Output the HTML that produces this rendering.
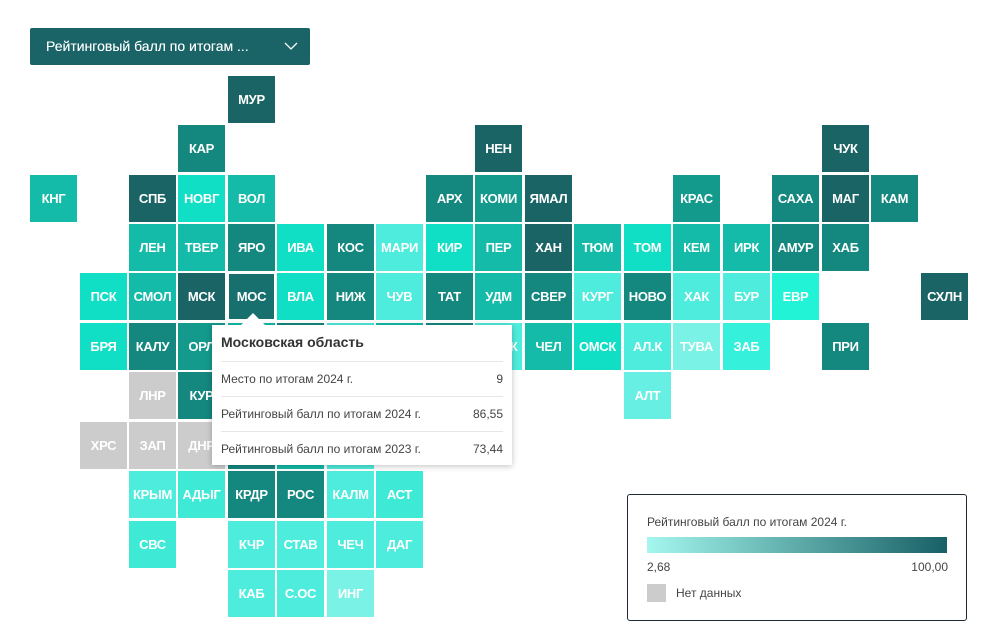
<!DOCTYPE html>
<html><head><meta charset="utf-8"><style>
body{margin:0;width:995px;height:640px;background:#fff;position:relative;overflow:hidden;font-family:"Liberation Sans",sans-serif}
.c{position:absolute;width:47px;height:47px;color:#fff;font-weight:bold;font-size:13px;line-height:47px;text-align:center;letter-spacing:-0.3px}
.D{background:#1a6466}.M{background:#14877f}.T{background:#139a8c}.S{background:#13bba8}.B{background:#10dfc6}.L{background:#4eecdc}.V{background:#7af2e6}.G{background:#cccccc}
#dd{position:absolute;left:30px;top:28px;width:280px;height:37px;background:#1a6468;border-radius:2px;color:#fff;font-size:14px;line-height:37px}
#tt{position:absolute;left:212px;top:325px;width:300px;height:140px;background:#fff;box-shadow:0 1px 6px rgba(0,0,0,.25);font-size:12px;color:#444}
#tt .r{position:absolute;left:9px;right:9px;height:34px;line-height:34px;border-top:1px solid #e6e6e6}
#tt .r span{position:absolute;right:0}
#lg{position:absolute;left:627px;top:494px;width:338px;height:125px;border:1px solid #1d2a36;border-radius:3px;font-size:12px;color:#444}
</style></head><body>
<div id="dd"><span style="position:absolute;left:16px;font-weight:500;text-shadow:0 0 0.3px #fff">Рейтинговый балл по итогам ...</span>
<svg style="position:absolute;left:254px;top:14px" width="14" height="9"><path d="M1 1 L7 7 L13 1" stroke="#fff" stroke-width="1.3" fill="none"/></svg></div>

<div class="c D" style="left:228px;top:76px">МУР</div>
<div class="c M" style="left:178px;top:125px">КАР</div>
<div class="c D" style="left:475px;top:125px">НЕН</div>
<div class="c D" style="left:822px;top:125px">ЧУК</div>

<div class="c S" style="left:30px;top:175px">КНГ</div>
<div class="c D" style="left:129px;top:175px">СПБ</div>
<div class="c B" style="left:178px;top:175px">НОВГ</div>
<div class="c S" style="left:228px;top:175px">ВОЛ</div>
<div class="c M" style="left:426px;top:175px">АРХ</div>
<div class="c T" style="left:475px;top:175px">КОМИ</div>
<div class="c D" style="left:525px;top:175px">ЯМАЛ</div>
<div class="c T" style="left:673px;top:175px">КРАС</div>
<div class="c M" style="left:772px;top:175px">САХА</div>
<div class="c D" style="left:822px;top:175px">МАГ</div>
<div class="c M" style="left:871px;top:175px">КАМ</div>

<div class="c S" style="left:129px;top:224px">ЛЕН</div>
<div class="c S" style="left:178px;top:224px">ТВЕР</div>
<div class="c M" style="left:228px;top:224px">ЯРО</div>
<div class="c B" style="left:277px;top:224px">ИВА</div>
<div class="c M" style="left:327px;top:224px">КОС</div>
<div class="c L" style="left:376px;top:224px">МАРИ</div>
<div class="c B" style="left:426px;top:224px">КИР</div>
<div class="c S" style="left:475px;top:224px">ПЕР</div>
<div class="c D" style="left:525px;top:224px">ХАН</div>
<div class="c S" style="left:574px;top:224px">ТЮМ</div>
<div class="c B" style="left:624px;top:224px">ТОМ</div>
<div class="c S" style="left:673px;top:224px">КЕМ</div>
<div class="c S" style="left:723px;top:224px">ИРК</div>
<div class="c M" style="left:772px;top:224px">АМУР</div>
<div class="c M" style="left:822px;top:224px">ХАБ</div>

<div class="c B" style="left:80px;top:273px">ПСК</div>
<div class="c S" style="left:129px;top:273px">СМОЛ</div>
<div class="c D" style="left:178px;top:273px">МСК</div>
<div class="c D" style="left:228px;top:273px;background:#17706e;box-shadow:inset 0 0 0 1px #fff">МОС</div>
<div class="c B" style="left:277px;top:273px">ВЛА</div>
<div class="c M" style="left:327px;top:273px">НИЖ</div>
<div class="c L" style="left:376px;top:273px">ЧУВ</div>
<div class="c M" style="left:426px;top:273px">ТАТ</div>
<div class="c S" style="left:475px;top:273px">УДМ</div>
<div class="c M" style="left:525px;top:273px">СВЕР</div>
<div class="c L" style="left:574px;top:273px">КУРГ</div>
<div class="c M" style="left:624px;top:273px">НОВО</div>
<div class="c L" style="left:673px;top:273px">ХАК</div>
<div class="c L" style="left:723px;top:273px">БУР</div>
<div class="c B" style="left:772px;top:273px;background:#22f2d6">ЕВР</div>
<div class="c D" style="left:921px;top:273px">СХЛН</div>

<div class="c B" style="left:80px;top:323px">БРЯ</div>
<div class="c M" style="left:129px;top:323px">КАЛУ</div>
<div class="c T" style="left:178px;top:323px">ОРЛ</div>
<div class="c S" style="left:228px;top:323px"></div>
<div class="c M" style="left:277px;top:323px"></div>
<div class="c L" style="left:327px;top:323px"></div>
<div class="c S" style="left:376px;top:323px"></div>
<div class="c M" style="left:426px;top:323px"></div>
<div class="c L" style="left:475px;top:323px">БАШК</div>
<div class="c S" style="left:525px;top:323px">ЧЕЛ</div>
<div class="c B" style="left:574px;top:323px">ОМСК</div>
<div class="c L" style="left:624px;top:323px">АЛ.К</div>
<div class="c V" style="left:673px;top:323px">ТУВА</div>
<div class="c L" style="left:723px;top:323px;background:#35f0da">ЗАБ</div>
<div class="c M" style="left:822px;top:323px">ПРИ</div>

<div class="c G" style="left:129px;top:372px">ЛНР</div>
<div class="c M" style="left:178px;top:372px">КУР</div>
<div class="c S" style="left:228px;top:372px"></div>
<div class="c L" style="left:277px;top:372px"></div>
<div class="c S" style="left:327px;top:372px"></div>
<div class="c L" style="left:376px;top:372px"></div>
<div class="c S" style="left:426px;top:372px"></div>
<div class="c L" style="left:624px;top:372px;background:#66efe2">АЛТ</div>

<div class="c G" style="left:80px;top:422px">ХРС</div>
<div class="c G" style="left:129px;top:422px">ЗАП</div>
<div class="c G" style="left:178px;top:422px">ДНР</div>
<div class="c M" style="left:228px;top:422px"></div>
<div class="c S" style="left:277px;top:422px"></div>
<div class="c L" style="left:327px;top:422px"></div>

<div class="c L" style="left:129px;top:471px">КРЫМ</div>
<div class="c B" style="left:178px;top:471px;background:#3ee9d6">АДЫГ</div>
<div class="c M" style="left:228px;top:471px">КРДР</div>
<div class="c M" style="left:277px;top:471px">РОС</div>
<div class="c L" style="left:327px;top:471px">КАЛМ</div>
<div class="c B" style="left:376px;top:471px;background:#3ee9d6">АСТ</div>

<div class="c L" style="left:129px;top:521px;background:#3ee9d6">СВС</div>
<div class="c L" style="left:228px;top:521px">КЧР</div>
<div class="c L" style="left:277px;top:521px">СТАВ</div>
<div class="c L" style="left:327px;top:521px">ЧЕЧ</div>
<div class="c L" style="left:376px;top:521px">ДАГ</div>

<div class="c L" style="left:228px;top:570px">КАБ</div>
<div class="c L" style="left:277px;top:570px">С.ОС</div>
<div class="c V" style="left:327px;top:570px">ИНГ</div>

<div id="tt">
<svg style="position:absolute;left:28px;top:-12px" width="26" height="13"><path d="M0 13 L13 0 L26 13Z" fill="#fff"/></svg>
<div style="position:absolute;left:9px;top:9px;font-size:14px;font-weight:bold;color:#333">Московская область</div>
<div class="r" style="top:36px">Место по итогам 2024 г.<span>9</span></div>
<div class="r" style="top:71px">Рейтинговый балл по итогам 2024 г.<span>86,55</span></div>
<div class="r" style="top:106px">Рейтинговый балл по итогам 2023 г.<span>73,44</span></div>
</div>

<div id="lg">
<div style="position:absolute;left:19px;top:20px">Рейтинговый балл по итогам 2024 г.</div>
<div style="position:absolute;left:19px;top:42px;width:300px;height:16px;background:linear-gradient(to right,#a4f7ee,#186066)"></div>
<div style="position:absolute;left:19px;top:65px">2,68</div>
<div style="position:absolute;right:18px;top:65px">100,00</div>
<div style="position:absolute;left:19px;top:89px;width:19px;height:18px;background:#ccc"></div>
<div style="position:absolute;left:48px;top:91px">Нет данных</div>
</div>
</body></html>
